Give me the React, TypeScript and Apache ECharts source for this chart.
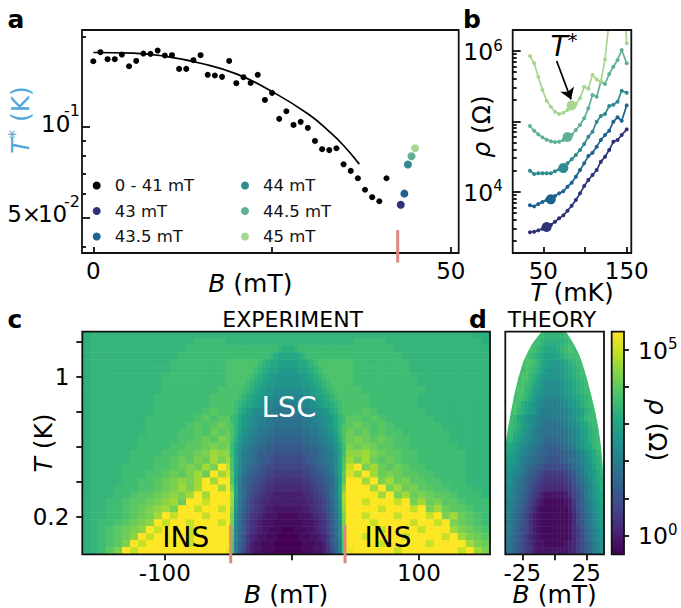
import React, { useEffect, useRef } from "react";
import * as echarts from "echarts";

const FONT = "DejaVu Sans";

// Panel a
const fieldsA = [0,1,2,3,4,5,6,7,8,9,10,11,12,13,14,15,16,17,18,19,20,21,22,23,24,25,26,27,28,29,30,31,32,33,34,35,36,37,38,39,40,41];
const tStarA = [.1652,.177,.1678,.1678,.1739,.159,.1656,.1752,.1748,.1793,.1726,.173,.1558,.1558,.1665,.173,.1489,.1481,.1466,.1656,.1397,.1462,.14,.1489,.1229,.1297,.1063,.1127,.1015,.1039,.0992,.0898,.0843,.0837,.0849,.0751,.0714,.0675,.0618,.0584,.0566,.0675];
const fitB = [0,5.6,10,15,20,25,30,33,35,37.2];
const fitT = [.1766,.1757,.1717,.1627,.15,.131,.1105,.0965,.0867,.0752];
const coloredNames = ["43 mT","43.5 mT","44 mT","44.5 mT","45 mT"];
const coloredB = [43,43.5,44,44.5,45];
const coloredT = [.0551,.06,.075,.0799,.0849];
const crest = ["#2e3278","#1e6390","#2f8b91","#5fb096","#a8d68f"];

// Panel b: log10 of rho in ohms
const tempsB = [34,39,44,49,54,59,64,69,74,79,84,89,94,99,104,109,114,119,124,129,134,139,144,150];
const logRho43 = [3.422,3.431,3.45,3.474,3.498,3.526,3.573,3.621,3.663,3.73,3.801,3.881,3.976,4.08,4.166,4.237,4.308,4.426,4.498,4.592,4.711,4.734,4.806,4.886];
const logRho435 = [3.806,3.791,3.825,3.853,3.881,3.891,3.938,3.976,4.005,4.071,4.128,4.213,4.308,4.403,4.507,4.554,4.64,4.734,4.806,4.867,4.995,5.057,5.009,5.227];
const logRho44 = [4.298,4.251,4.261,4.261,4.261,4.261,4.289,4.317,4.336,4.403,4.46,4.521,4.592,4.678,4.782,4.853,4.995,5.076,5.104,5.218,5.237,5.28,5.436,5.407];
const logRho445 = [4.934,4.867,4.815,4.772,4.739,4.716,4.706,4.711,4.734,4.777,4.806,4.877,4.948,5.043,5.185,5.374,5.351,5.564,5.531,5.673,5.777,5.872,6.014,5.825];
const logRho45 = [5.929,5.825,5.635,5.445,5.294,5.208,5.137,5.104,5.123,5.161,5.227,5.246,5.327,5.493,5.464,5.663,5.597,5.564,5.881,6.441,7.2,7.4,7.3,6.109];
const highlightIdx = [4,5,8,9,10];

// Panels c, d: colour levels, one char per cell, top row first
const LEVELS = "0123456789abcdefghijklmnopqrstuvwxyz";
// outer flanks of panel c, 8 px cells
const heatLeft = [
"mnnnnnnnnnnnnnnnnn","mnnnnnnnnnnnnnoooo","mnnnnnnnnnnnnooooo","mnnnnnnnnnnnoooooo",
"mnnnnnnnnnnooooooo","mnnnnnnnnnnooooooo","mnnnnnnnnnoooooooo","mnnnnnnnnnoooooooo",
"mnnnnnnnnnooooooop","mnnnnnnnnooooooopp","mnnnnnnnnooooooopp","mnnnnnnnnoooooopqp",
"mnnnnnnnoooooopqpq","mnnnnnnnooooopqpqr","mnnnnnnnooooppqprq","mnnnnnnoooooppqrqs",
"mnnnnnnooooppqqrsr","mnnnnnooooppqqrsut","mnnnnnoooppqrqsrus","mnnnnooooppqrsrusz",
"mnnnnoooppqrqsurzu","mnnnnooppqrstsuzuz","mnnnoooppqrsusuzzu","mnnnoopqqrstsuzuzz",
"mnnoopqqrsturzzwzz","mnnoopqrstuszzwzzw","mnnoopqrsuzwzzzwzz","mnoopqrstzwzzwzzzw",
"mnopqrstzwzzzwzzzz","mnopqrtzwzzzzwzzzz","mnopqszwzzzzzwzzzz","mnoqszwzzzzzzzzzzz",
];
const heatRight = [
"nnnnnnnnnnnnnnnmm","oooonnnnnnnnnnnnm","ooooonnnnnnnnnnnn","oooooonnnnnnnnnnn",
"ooooooonnnnnnnnnn","ooooooonnnnnnnnnn","oooooooonnnnnnnnn","oooooooonnnnnnnnn",
"poooooooonnnnnnnn","ppoooooonnnnnnnnn","ppoooooonnnnnnnnn","pqpoooooonnnnnnnn",
"qpqpoooooonnnnnnn","rqpqpoooooonnnnnn","qrpqppoooooonnnnn","srqrqppooooonnnnn",
"rsrqqppoooooonnnn","tusrqqppoooooonnn","surqrqppoooooonnn","zsurqrqppooooonnn",
"uzursrqqppoooonnn","zuzsursqqppooonnn","zzuzsursqqppooonn","zzzuzsursrqqpooon",
"zwzzzwzsursqqpooo","zzzwzzzwzsurqqpoo","zwzzzwzzzwzsurqpo","zzwzzzzwzzwzsrqpo",
"zzzwzzzzwzzzusrqp","zwzzzzwzzzzwzusrq","zzzwzzzzzwzzzzusr","zzzzzwzzzzzzzwzus",
];
// dome of panel c, 4 px cells, from the centre outward
const heatDomeHalf = [
"nnnnnnnnnnnnnnnn","nnnnnnnnnnnnnnnn","mmnooooooooooooo","lllmnooooooooooo",
"kkkllmnopppppppp","jjjkklmnoppppppp","iiijjklmnopppppp","iiiijjklmnoppppp",
"hhhhiijklmnopppp","gggghhijklmnoppp","ffffgghijklmnopp","eeeeffghhijlmopp",
"ddddeefgghijlnoq","ddddeeffghijlnpq","ccccddeefghiknpr","bbbbccddefghjmpr",
"aaaabbccdefgilos","9999aabbcdefhkot","88889aabcdefhlpu","7777889abcdehkpw",
"66667789abcdgkqx","555566789abcfjqz","4444556789acfksz","3333445678acfkuz",
"33333445679bejuz","22223345679beitz","11122234568adhsz","11112223457adgsz",
"00111223457acgrz","000111223469cgqz","000011122369bfqz","000011122358bfpy",
];
const theoryRows = [
"oooooooooonnnnnoooooooooo",
"ooooooooonmmmmmnooooooooo",
"ooooooponmlllmnopoooooooo",
"oooooponmlkkklmnooooooooo",
"ooooopponlkjjjklmnooooooo",
"oooooponmkjiiijklmnoooooo",
"ooooppnmljiiiijklmnoooooo",
"ooooponlkihhhhijklmnooooo",
"oooppnmkjihhhhijklmnooooo",
"oooponljihgggghijklmnoooo",
"oopomljihgffffghijkmnoooo",
"oopnmkjigffffffghijkmnooo",
"oonlkihgfeeeeffghiklnoooo",
"oonmkjhgfeddddefghiklnooo",
"oomljihfeddddddefghjkmnoo",
"nnlkihgfedccccdefghjkmnoo",
"mlkihgfedcbbbbcdefhiklnoo",
"lkjhgfedcbbaaabbcdfgiklno",
"kjihfedccba999abcdeghjlmo",
"jihgedcba9888889acdfhikmn",
"ihgfdcba876666679acegijln",
"ihfecba87655555679bdfhjlm",
"hgfdca976544444568acegikm",
"hgedba8653222223579begikl",
"gfecb97532111112368bdfhjl",
"gfdca86421111111358adfhjk",
"gedb975321111111247acegik",
"fecb9753211111112479cegij",
"feca8753211111112469bdfhj",
"fdca8643211111112468bdfhi",
"edba8653221111123468acegi",
"edb98653222222223468acegh",
];
// Outline of the theory dome: B (mT) and log10 T
const domeLeftB = [-9.84,-13.75,-17.66,-21.1,-24.2,-28.1,-31.25,-33.8,-36.2,-37.7,-38.3];
const domeLeftLogT = [.2262,.1947,.1613,.1198,.0784,-.005,-.0884,-.1712,-.2546,-.3195,-.3495];
const domeRightB = [8.9,12.3,15.4,18.75,21.4,25.3,28.7,31.8,34.4,36.25,37.5,38.4,38.8];
const domeRightLogT = [.2262,.1947,.1613,.1198,.0784,-.005,-.0884,-.1712,-.2546,-.338,-.421,-.514,-.564];
const viridis = ["#440154","#482475","#414487","#355f8d","#2a788e","#21918c","#22a884","#44bf70","#7ad151","#bddf26","#fde725"];

// Ticks
const tTicksC = [.2,.298,.447,.667,1,1.49];
const tMinorA = [.04,.06,.07,.08,.09,.2];
const rhoMinorB = [2e3,3e3,4e3,5e3,6e3,7e3,8e3,9e3,2e4,3e4,4e4,5e4,6e4,7e4,8e4,9e4,2e5,3e5,4e5,5e5,6e5,7e5,8e5,9e5];

const lg = Math.log10;
const cellsFrom = (rows: string[]) => {
  const out: number[][] = [];
  rows.forEach((row, j) => {
    row.split("").forEach((ch, i) => {
      const level = LEVELS.indexOf(ch);
      if (level >= 0) out.push([i, rows.length - 1 - j, level]);
    });
  });
  return out;
};
const indices = (n: number) => Array.from({ length: n }, (_, i) => String(i));
const widen = (s: string) => s.split("").map((c) => c + c).join("");
const reversed = (s: string) => s.split("").reverse().join("");

const labelStyle = { color: "#000", fontFamily: FONT, fontSize: 23 };
const supRichA = {
  n: { fontFamily: FONT, fontSize: 23, color: "#000", padding: [0, 0, 6, 0] },
  o: { fontFamily: FONT, fontSize: 23, color: "#000", padding: [0, 0, 6, 0], width: 23, align: "left" },
  s: { fontFamily: FONT, fontSize: 16, color: "#000", verticalAlign: "top", padding: [0, 0, 32, 0] },
};
const supRichB = {
  n: { fontFamily: FONT, fontSize: 23.5, color: "#000", padding: [2, 0, 0, 0] },
  s: { fontFamily: FONT, fontSize: 15, color: "#000", verticalAlign: "top", padding: [0, 0, 11, 0] },
};
const nameRich = (color = "#000") => ({
  i: { fontFamily: FONT, fontSize: 25, fontStyle: "italic", color },
  r: { fontFamily: FONT, fontSize: 25, color },
  s: { fontFamily: FONT, fontSize: 17, color, verticalAlign: "top", padding: [0, 0, 12, 0] },
});
const tickLine = { color: "#000", width: 1.7 };

const hidden = (extra: any) => ({ show: false, ...extra });

const valueAxis = (o: {
  gridIndex: number; min: number; max: number; position: string; ticks: number[]; labels?: number[];
  inside?: boolean; length?: number; formatter?: any; margin?: number; name?: string; nameGap?: number;
  nameStyle?: any; nameRotate?: number; rich?: any; show?: boolean;
}) => ({
  type: "value",
  gridIndex: o.gridIndex,
  min: o.min,
  max: o.max,
  position: o.position,
  scale: true,
  axisLine: { show: false, onZero: false },
  splitLine: { show: false },
  axisTick: { show: true, customValues: o.ticks, inside: !!o.inside, length: o.length ?? 6, lineStyle: tickLine },
  axisLabel: o.labels
    ? { show: true, customValues: o.labels, margin: o.margin ?? 6, formatter: o.formatter ?? ((v: number) => String(v)), ...labelStyle, rich: o.rich, hideOverlap: false }
    : { show: false },
  name: o.name,
  nameLocation: "middle",
  nameGap: o.nameGap,
  nameRotate: o.nameRotate,
  nameTextStyle: o.nameStyle,
  nameMoveOverlap: false,
});

const aMinT = .0381, aMaxT = .2098;
const bMinRho = 1343, bMaxRho = 1.99e6;
const cMinT = .13, cMaxT = 1.68;
const dMinB = -38.3, dMaxB = 38.8;

const scatterPairs = (xs: number[], ys: number[]) => xs.map((x, i) => [x, ys[i]]);
const rhoPairs = (logs: number[]) => tempsB.map((t, i) => [t, Math.pow(10, logs[i])]);
const allLogs = [logRho43, logRho435, logRho44, logRho445, logRho45];

const outsideDome = (name: string, pts: number[][]) => ({
  name, type: "custom", coordinateSystem: "cartesian2d", xAxisIndex: 5, yAxisIndex: 10, z: 5, silent: true,
  encode: { x: 0, y: 1 },
  data: pts,
  renderItem: (params: any, api: any) =>
    params.dataIndex !== 0
      ? null
      : { type: "polygon", shape: { points: pts.map((p) => api.coord(p)) }, style: { fill: "#fff" } },
});

const txt = (text: string, x: number, y: number, extra: any = {}) => ({
  type: "text", x, y, z: 100, silent: true,
  style: { text, fontFamily: FONT, fontSize: 22, fill: "#000", align: "center", verticalAlign: "middle", ...extra },
});
const frame = (x: number, y: number, width: number, height: number) => ({
  type: "rect", z: 90, silent: true,
  shape: { x, y, width, height },
  style: { fill: "none", stroke: "#111", lineWidth: 1.8 },
});
const bar = (x: number, y1: number, y2: number, stroke: string) => ({
  type: "line", z: 95, silent: true,
  shape: { x1: x, y1, x2: x, y2 },
  style: { stroke, lineWidth: 3 },
});

export default function App() {
  const ref = useRef<HTMLDivElement>(null);
  useEffect(() => {
    document.body.style.margin = "0";
    const chart = echarts.init(ref.current!, undefined, { renderer: "svg" });

    const expRows = heatLeft.map((l, j) => {
      const half = heatDomeHalf[j];
      const outward = half.slice(1);
      const dome = reversed(outward) + half + half[half.length - 1];
      return widen(l) + dome + widen(heatRight[j]);
    });
    const topLog = lg(cMaxT);

    const option: any = {
      animation: false,
      backgroundColor: "#fff",
      textStyle: { fontFamily: FONT },
      grid: [
        { left: 82, top: 30, width: 376.7, height: 223 },
        { left: 512.7, top: 30, width: 118.6, height: 223 },
        { left: 82.3, top: 331.7, width: 407.7, height: 222.6 },
        { left: 505.3, top: 331.7, width: 98.7, height: 222.6 },
        { left: 611.7, top: 331.7, width: 12.3, height: 222.6 },
      ].map((g) => ({ ...g, outerBoundsMode: "none", containLabel: false })),
      xAxis: [
        valueAxis({ gridIndex: 0, min: -1.58, max: 51.1, position: "bottom", ticks: [0, 25, 50], labels: [0, 50], inside: true, length: 6, margin: 6,
          name: "{i|B}{r| (mT)}", nameGap: 18, nameStyle: { rich: nameRich(), padding: [0, 40, 0, 0] } }),
        valueAxis({ gridIndex: 1, min: 13.3, max: 155.5, position: "bottom", ticks: [50, 100, 150], labels: [50, 150], inside: true, length: 6, margin: 6,
          name: "{i|T}{r| (mK)}", nameGap: 27, nameStyle: { rich: nameRich() } }),
        hidden({ type: "category", gridIndex: 2, data: indices(102) }),
        valueAxis({ gridIndex: 2, min: -164.9, max: 156, position: "bottom", ticks: [-100, 0, 100], labels: [-100, 100], length: 6, margin: 7,
          name: "{i|B}{r| (mT)}", nameGap: 28, nameStyle: { rich: nameRich() } }),
        hidden({ type: "category", gridIndex: 3, data: indices(25) }),
        valueAxis({ gridIndex: 3, min: dMinB, max: dMaxB, position: "bottom", ticks: [-25, 0, 25], labels: [-25, 25], length: 6, margin: 7,
          name: "{i|B}{r| (mT)}", nameGap: 28, nameStyle: { rich: nameRich() } }),
        hidden({ type: "value", gridIndex: 4, min: 0, max: 1 }),
      ],
      yAxis: [
        hidden({ type: "log", logBase: 10, gridIndex: 0, min: aMinT, max: aMaxT }),
        valueAxis({ gridIndex: 0, min: lg(aMinT), max: lg(aMaxT), position: "left", ticks: [lg(.05), -1], labels: [lg(.05), -1], inside: true, length: 8, margin: 2,
          rich: supRichA, formatter: (v: number) => (v > -1.1 ? "{o|10}{s|-1}" : "{n|5×}{o|10}{s|-2}"),
          name: "{i|T}{s|*}{r| (K)}", nameGap: 47, nameStyle: { rich: nameRich("#4ea8d8"), padding: [0, 0, 0, 43] } }),
        valueAxis({ gridIndex: 0, min: lg(aMinT), max: lg(aMaxT), position: "left", ticks: tMinorA.map(lg), inside: true, length: 4 }),

        hidden({ type: "log", logBase: 10, gridIndex: 1, min: bMinRho, max: bMaxRho }),
        valueAxis({ gridIndex: 1, min: lg(bMinRho), max: lg(bMaxRho), position: "left", ticks: [4, 5, 6], labels: [4, 6], inside: true, length: 8, margin: 10,
          rich: supRichB, formatter: (v: number) => `{n|10}{s|${Math.round(v)}}`,
          name: "{i|ρ}{r| (Ω)}", nameGap: 19, nameStyle: { rich: nameRich(), padding: [0, 0, 0, 30] } }),
        valueAxis({ gridIndex: 1, min: lg(bMinRho), max: lg(bMaxRho), position: "left", ticks: rhoMinorB.map(lg), inside: true, length: 4 }),

        hidden({ type: "category", gridIndex: 2, data: indices(32) }),
        valueAxis({ gridIndex: 2, min: lg(cMinT), max: topLog, position: "left", ticks: tTicksC.map(lg), labels: [lg(.2), 0], length: 6, margin: 13,
          formatter: (v: number) => (Math.abs(v) < .01 ? "1" : "0.2"),
          name: "{i|T}{r| (K)}", nameGap: 26, nameStyle: { rich: nameRich() } }),

        hidden({ type: "category", gridIndex: 3, data: indices(32) }),

        valueAxis({ gridIndex: 4, min: -.51, max: 5.49, position: "right", ticks: [0, 1, 2, 3, 4, 5], labels: [0, 5], length: 5, margin: 14,
          rich: supRichB, formatter: (v: number) => `{n|10}{s|${Math.round(v)}}`,
          name: "{i|ρ}{r| (Ω)}", nameGap: 21, nameRotate: -90, nameStyle: { rich: nameRich(), padding: [0, 26, 0, 0] } }),

        hidden({ type: "value", gridIndex: 3, min: lg(cMinT), max: topLog }),
      ],
      visualMap: [{
        type: "continuous", show: true, seriesIndex: [17, 18], min: 0, max: 35, dimension: 2,
        left: 611.7, top: 331.7, itemWidth: 12.3, itemHeight: 222.6, padding: 0, text: ["", ""], textGap: 0,
        calculable: false, hoverLink: false, inRange: { color: viridis },
      }],
      legend: [
        { data: ["0 - 41 mT", "43 mT", "43.5 mT"], left: 92.7, top: 177 },
        { data: ["44 mT", "44.5 mT", "45 mT"], left: 241, top: 177 },
      ].map((l) => ({
        ...l, orient: "vertical", padding: 0, icon: "circle", itemWidth: 8, itemHeight: 8, itemGap: 8.5,
        selectedMode: false, align: "left",
        textStyle: { fontFamily: FONT, fontSize: 16.5, color: "#111", lineHeight: 16, padding: [0, 0, 0, 9] },
      })),
      series: [
        { name: "0 - 41 mT", type: "scatter", xAxisIndex: 0, yAxisIndex: 0, symbolSize: 6, itemStyle: { color: "#000", opacity: 1 }, data: scatterPairs(fieldsA, tStarA) },
        { name: "fit", type: "line", xAxisIndex: 0, yAxisIndex: 0, smooth: true, symbol: "none", lineStyle: { color: "#000", width: 1.7 }, data: scatterPairs(fitB, fitT) },
        ...coloredNames.map((name, i) => ({
          name, type: "scatter", xAxisIndex: 0, yAxisIndex: 0, symbolSize: 8, itemStyle: { color: crest[i], opacity: 1 }, data: [[coloredB[i], coloredT[i]]],
        })),
        ...allLogs.map((logs, i) => ({
          name: "rho " + coloredNames[i], type: "line", xAxisIndex: 1, yAxisIndex: 3, symbol: "circle", symbolSize: 4, showSymbol: true, clip: true,
          lineStyle: { color: crest[i], width: 1.7 }, itemStyle: { color: crest[i] }, data: rhoPairs(logs),
          ...(i === 4 ? {
            markLine: {
              silent: true, animation: false, symbol: ["none", "arrow"], symbolSize: 11, label: { show: false },
              lineStyle: { color: "#000", width: 1.7, type: "solid" },
              data: [[{ coord: [66, 7.2e5] }, { coord: [83.2, 2.05e5] }]],
            },
          } : {}),
        })),
        ...allLogs.map((logs, i) => ({
          name: "T* " + coloredNames[i], type: "scatter", xAxisIndex: 1, yAxisIndex: 3, symbolSize: 10, z: 3,
          itemStyle: { color: crest[i], opacity: 1 }, data: [[tempsB[highlightIdx[i]], Math.pow(10, logs[highlightIdx[i]])]],
        })),
        { name: "experiment", type: "heatmap", xAxisIndex: 2, yAxisIndex: 6, progressive: 0, silent: true, data: cellsFrom(expRows) },
        { name: "theory", type: "heatmap", xAxisIndex: 4, yAxisIndex: 8, progressive: 0, silent: true, data: cellsFrom(theoryRows) },
        outsideDome("outside left", [[dMinB, topLog], ...scatterPairs(domeLeftB, domeLeftLogT)]),
        outsideDome("outside right", [[dMaxB, topLog], ...scatterPairs(domeRightB, domeRightLogT)]),
      ],
      graphic: { elements: [
        frame(82, 30, 376.7, 223), frame(512.7, 30, 118.6, 223), frame(82.3, 331.7, 407.7, 222.6),
        frame(505.3, 331.7, 98.7, 222.6), frame(611.7, 331.7, 12.3, 222.6),
        bar(397.7, 230, 262.7, "#dd8a85"), bar(230.7, 525, 563.3, "#d88a7c"), bar(345, 525, 563.3, "#d88a7c"),
        txt("a", 16, 19, { fontSize: 25, fontWeight: "bold" }),
        txt("b", 472, 19, { fontSize: 25, fontWeight: "bold" }),
        txt("c", 15, 319, { fontSize: 25, fontWeight: "bold" }),
        txt("d", 478, 319, { fontSize: 25, fontWeight: "bold" }),
        txt("EXPERIMENT", 292.7, 319), txt("THEORY", 552, 319),
        txt("INS", 185.7, 537.5, { fontSize: 28 }), txt("INS", 388, 537.5, { fontSize: 28 }),
        txt("LSC", 289, 407, { fontSize: 29, fill: "#fff" }),
        txt("{i|T}{s|*}", 564, 46, { rich: {
          i: { fontFamily: FONT, fontSize: 28, fontStyle: "italic", fill: "#000" },
          s: { fontFamily: FONT, fontSize: 20, fill: "#000", verticalAlign: "top", padding: [0, 0, 12, 0] },
        } }),
      ] },
    };
    chart.setOption(option);
    return () => chart.dispose();
  }, []);
  return <div ref={ref} style={{ position: "absolute", left: 0, top: 0, width: 681, height: 608 }} />;
}
